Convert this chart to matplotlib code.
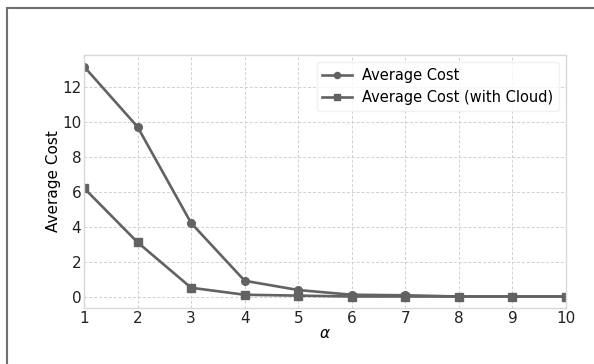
import numpy as np
import matplotlib
matplotlib.use('Agg')
import matplotlib.pyplot as plt
from matplotlib.patches import Rectangle

# 数据
alpha = [1, 2, 3, 4, 5, 6, 7, 8, 9, 10]
avg_cost = [13.2, 9.75, 4.25, 0.95, 0.42, 0.15, 0.12, 0.05, 0.05, 0.05]
avg_cost_cloud = [6.25, 3.15, 0.55, 0.15, 0.10, 0.05, 0.05, 0.05, 0.05, 0.05]
y_ticks = [0, 2, 4, 6, 8, 10, 12]

plt.rcParams['font.family'] = ['DejaVu Sans']

fig = plt.figure(figsize=(5.94, 3.64), dpi=100)
ax = fig.add_axes([84 / 594, 1 - 308 / 364, (566 - 84) / 594, (308 - 55) / 364])

# 外框
fig.patches.append(Rectangle((7 / 594, -0.1), 1.2, 1 - 8 / 364 + 0.1,
                             transform=fig.transFigure, fill=False,
                             edgecolor='#707070', linewidth=1.5))

line_color = '#626262'
ax.plot(alpha, avg_cost, color=line_color, marker='o', markersize=5.5,
        linewidth=1.9, label='Average Cost')
ax.plot(alpha, avg_cost_cloud, color=line_color, marker='s', markersize=5.5,
        linewidth=1.9, label='Average Cost (with Cloud)')

ax.set_xlim(1, 10)
ax.set_xticks(alpha)
ax.set_yticks(y_ticks)
ax.grid(True, linestyle=(0, (3, 2)), color='#d0d0d0', linewidth=0.7)
ax.tick_params(length=0, labelsize=11, colors='#222222', pad=2)
for s in ax.spines.values():
    s.set_color('#d8d8d8')
    s.set_linewidth(1.0)

ax.set_xlabel(r'$\alpha$', fontsize=11, labelpad=0)
ax.set_ylabel('Average Cost', fontsize=11, labelpad=1)

leg = ax.legend(loc='upper right', fontsize=10.5, frameon=True, framealpha=0.8,
                edgecolor='#eeeeee', handlelength=2.0, handletextpad=0.7,
                borderpad=0.4, labelspacing=0.5, markerscale=0.8)

fig.savefig('out.png', dpi=100)
